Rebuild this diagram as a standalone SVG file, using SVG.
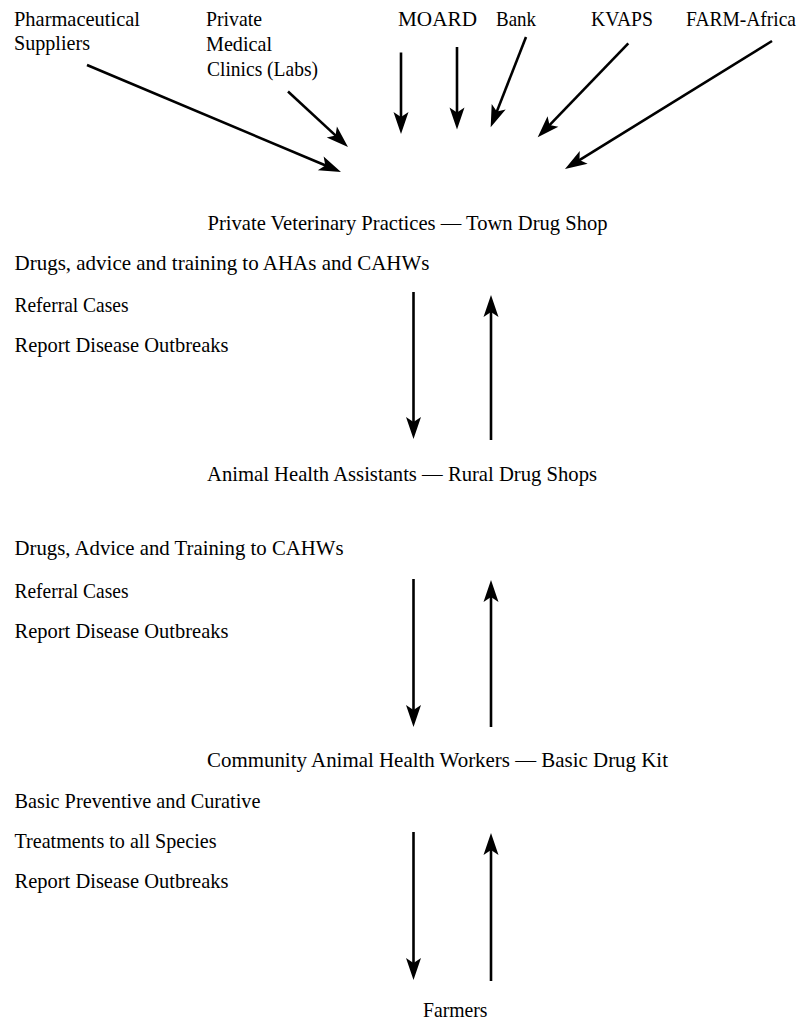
<svg xmlns="http://www.w3.org/2000/svg" width="803" height="1020" viewBox="0 0 803 1020">
<style>
text { font-family: "Liberation Serif", "Times New Roman", serif; font-size: 21px; fill: #000; }
.c { stroke: #000; stroke-width: 2.6; fill: none; marker-end: url(#ah); }
</style>
<defs>
<marker id="ah" markerUnits="userSpaceOnUse" markerWidth="24" markerHeight="16" refX="6" refY="7.5" orient="auto" viewBox="0 0 24 15" overflow="visible">
<path d="M0,0 L22,7.5 L0,15 L5,7.5 Z" fill="#000"/>
</marker>
</defs>
<rect width="803" height="1020" fill="#fff"/>
<g id="pharma">
<text x="14" y="26" textLength="126" lengthAdjust="spacingAndGlyphs">Pharmaceutical</text>
<text x="14" y="50" textLength="76" lengthAdjust="spacingAndGlyphs">Suppliers</text>
</g>
<g id="clinics">
<text x="206" y="26" textLength="56" lengthAdjust="spacingAndGlyphs">Private</text>
<text x="206" y="51" textLength="66" lengthAdjust="spacingAndGlyphs">Medical</text>
<text x="207" y="76" textLength="111" lengthAdjust="spacingAndGlyphs">Clinics (Labs)</text>
</g>
<g id="moard"><text x="398" y="26" textLength="79" lengthAdjust="spacingAndGlyphs">MOARD</text></g>
<g id="bank"><text x="496" y="26" textLength="40" lengthAdjust="spacingAndGlyphs">Bank</text></g>
<g id="kvaps"><text x="591" y="26" textLength="62" lengthAdjust="spacingAndGlyphs">KVAPS</text></g>
<g id="farm-africa"><text x="686" y="26" textLength="110" lengthAdjust="spacingAndGlyphs">FARM-Africa</text></g>
<g id="pvp">
<text x="207.5" y="230" textLength="400" lengthAdjust="spacingAndGlyphs">Private Veterinary Practices — Town Drug Shop</text>
</g>
<g id="pvp-services">
<text x="14.5" y="270" textLength="415" lengthAdjust="spacingAndGlyphs">Drugs, advice and training to AHAs and CAHWs</text>
<text x="14.5" y="312" textLength="114" lengthAdjust="spacingAndGlyphs">Referral Cases</text>
<text x="14.5" y="352" textLength="214" lengthAdjust="spacingAndGlyphs">Report Disease Outbreaks</text>
</g>
<g id="aha">
<text x="207" y="481" textLength="390" lengthAdjust="spacingAndGlyphs">Animal Health Assistants — Rural Drug Shops</text>
</g>
<g id="aha-services">
<text x="14.5" y="555" textLength="329" lengthAdjust="spacingAndGlyphs">Drugs, Advice and Training to CAHWs</text>
<text x="14.5" y="598" textLength="114" lengthAdjust="spacingAndGlyphs">Referral Cases</text>
<text x="14.5" y="638" textLength="214" lengthAdjust="spacingAndGlyphs">Report Disease Outbreaks</text>
</g>
<g id="cahw">
<text x="207" y="767" textLength="461" lengthAdjust="spacingAndGlyphs">Community Animal Health Workers — Basic Drug Kit</text>
</g>
<g id="cahw-services">
<text x="14.5" y="808" textLength="246" lengthAdjust="spacingAndGlyphs">Basic Preventive and Curative</text>
<text x="14.5" y="848" textLength="202" lengthAdjust="spacingAndGlyphs">Treatments to all Species</text>
<text x="14.5" y="888" textLength="214" lengthAdjust="spacingAndGlyphs">Report Disease Outbreaks</text>
</g>
<g id="farmers"><text x="423" y="1017" textLength="64.5" lengthAdjust="spacingAndGlyphs">Farmers</text></g>
<g id="connectors">
<line class="c" x1="87" y1="65" x2="326.25" y2="165.79"/>
<line class="c" x1="288" y1="91.5" x2="336.25" y2="136.13"/>
<line class="c" x1="401" y1="52.5" x2="401" y2="118"/>
<line class="c" x1="457" y1="47" x2="457" y2="113.5"/>
<line class="c" x1="526" y1="37" x2="496.5" y2="112.4"/>
<line class="c" x1="628.3" y1="43.3" x2="548.8" y2="125.8"/>
<line class="c" x1="772" y1="41" x2="578.6" y2="160.6"/>
<line class="c" x1="413.5" y1="292" x2="413.5" y2="423"/>
<line class="c" x1="491" y1="440" x2="491" y2="311"/>
<line class="c" x1="413.5" y1="579" x2="413.5" y2="711"/>
<line class="c" x1="491" y1="727" x2="491" y2="596"/>
<line class="c" x1="413.5" y1="832" x2="413.5" y2="964"/>
<line class="c" x1="491" y1="981" x2="491" y2="849"/>
</g>
</svg>
